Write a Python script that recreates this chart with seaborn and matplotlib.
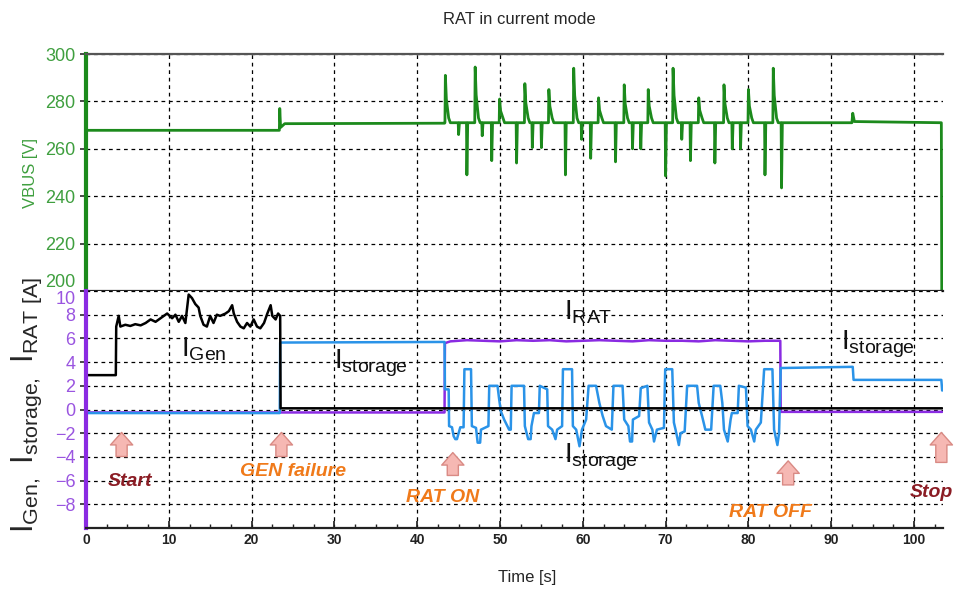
import matplotlib
matplotlib.use('Agg')  # no display in the sandbox
import matplotlib.pyplot as plt
from matplotlib.ticker import MultipleLocator
import pandas as pd
import seaborn as sns

# --- DATA ---
# bus voltage, piecewise levels
vbus_t = [0.0, 23.35, 23.4, 23.5, 24.0, 43.3, 84.3, 92.5, 92.6, 92.8, 103.3, 103.35]
vbus_v = [267.8, 267.8, 277.0, 269.0, 270.6, 270.8, 271.0, 271.0, 275.0, 271.5, 271.0, 200.0]
VBUS_BASE = 271.0
# spikes while the RAT is on
up_spike_t = [43.4, 47.0, 49.95, 53.0, 55.9, 58.9, 61.9, 65.0, 67.9, 70.9, 74.0, 77.05, 80.0, 83.0]
up_spike_v = [291, 294.5, 281, 287.5, 285, 294, 281.5, 287, 285, 294, 281.5, 287, 285, 294]
down_spike_t = [45.0, 46.0, 47.85, 49.0, 52.0, 53.9, 55.0, 57.9, 59.85, 60.95, 63.95,
                66.0, 67.0, 70.0, 71.95, 73.0, 75.95, 78.05, 79.05, 82.0, 84.0]
down_spike_v = [266, 249, 265.5, 255, 254, 260.5, 260.5, 249, 264, 256, 254.5,
                260, 260, 248.5, 264, 255, 254, 260, 260, 249, 243.5]

# generator current
igen_t = [0, 3.6, 3.65, 3.95, 4.15, 4.75, 5.35, 5.95, 6.6, 7.2, 7.8, 8.4, 9.0, 9.8, 10.4,
          10.8, 11.2, 11.6, 12.0, 12.4, 12.8, 13.2, 13.6, 13.8, 14.2, 14.6, 15.0, 15.4,
          15.8, 16.2, 16.85, 17.25, 17.65, 17.85, 18.25, 18.65, 19.05, 19.45, 19.85,
          20.25, 20.65, 21.05, 21.5, 21.9, 22.3, 22.5, 22.9, 23.2, 23.45, 23.5, 103.4]
igen_a = [2.9, 2.9, 7.0, 7.9, 7.0, 7.15, 7.05, 7.2, 7.1, 7.3, 7.6, 7.4, 7.7, 8.1, 7.7,
          8.0, 7.4, 7.9, 7.3, 9.7, 9.4, 8.9, 8.6, 7.9, 7.15, 7.0, 7.9, 7.3,
          8.0, 7.9, 8.1, 8.3, 8.8, 8.1, 7.4, 7.0, 6.85, 7.3, 7.0,
          7.6, 7.0, 6.85, 7.3, 8.1, 8.8, 7.9, 7.6, 8.1, 7.9, 0.1, 0.1]

# storage current
istor_t = [0, 23.4, 23.45, 43.3, 43.35, 43.8, 43.85, 44.2, 44.4, 44.6, 44.8, 45.0, 45.2,
           45.6, 45.7, 46.5, 46.6, 47.1, 47.3, 47.6, 47.7, 48.6, 48.7, 49.7, 49.9, 50.1,
           50.5, 51.1, 51.3, 51.4, 52.9, 53.0, 53.4, 53.7, 53.8, 54.1, 54.7, 54.8, 55.7,
           55.8, 56.3, 56.7, 56.9, 57.5, 57.6, 58.7, 58.8, 59.2, 59.6, 59.9, 60.4, 60.7,
           61.6, 62.0, 62.4, 62.8, 63.5, 63.7, 64.8, 65.0, 65.5, 65.7, 65.95, 66.05, 66.8,
           67.0, 67.8, 68.0, 68.4, 68.6, 68.95, 69.8, 69.95, 70.8, 71.0, 71.2, 71.6, 71.8,
           72.3, 72.6, 73.8, 74.0, 74.4, 74.8, 75.5, 75.8, 76.6, 76.85, 77.05, 77.5, 77.85,
           78.0, 78.7, 78.85, 79.7, 79.9, 80.3, 80.7, 80.9, 81.5, 81.9, 82.9, 83.1, 83.5,
           83.7, 83.9, 92.6, 92.7, 103.3, 103.4]
istor_a = [-0.3, -0.3, 5.65, 5.7, 1.7, 1.7, -1.4, -1.5, -2.25, -2.5, -2.5, -2.0, -1.5,
           -1.5, 3.4, 3.4, -1.4, -1.55, -2.8, -2.8, -1.7, -1.4, 2.0, 2.0, 0.85, -0.15,
           -0.85, -1.7, -1.7, 2.0, 2.0, -1.4, -2.5, -2.5, -1.4, -0.3, -0.3, 2.0, 1.7,
           -1.4, -1.7, -2.5, -1.7, -1.4, 3.4, 3.4, -1.4, -1.7, -3.1, -1.7, -0.85, 2.0,
           2.0, 0.55, -0.55, -1.4, -1.7, 2.0, 2.0, -0.85, -1.4, -2.7, -2.7, -0.85, -0.55,
           1.8, 2.0, -1.1, -1.7, -2.7, -1.7, -1.55, 3.4, 3.4, -1.1, -1.7, -3.0, -2.0,
           -1.85, 2.0, 2.0, 0.55, -0.55, -1.7, -1.7, 2.0, 2.0, 0.55, -1.7, -2.7, -0.85,
           -0.3, -0.3, 2.0, 1.85, -1.4, -1.7, -2.7, -1.7, -1.1, 3.4, 3.4, -1.7, -3.0,
           -2.0, 3.5, 3.6, 2.5, 2.5, 1.6]

# RAT current
irat_t = [0, 43.3, 43.35, 44, 46, 48, 50, 52, 54, 56, 58, 60, 62, 64, 66, 68, 70,
          72, 74, 76, 78, 80, 82, 83.85, 83.9, 103.4]
irat_a = [-0.25, -0.25, 5.6, 5.75, 5.85, 5.8, 5.75, 5.85, 5.8, 5.85, 5.75, 5.8,
          5.85, 5.8, 5.75, 5.85, 5.8, 5.8, 5.75, 5.85, 5.8, 5.75, 5.8, 5.8, -0.2, -0.2]

# event arrows: label, time, arrow tail, arrow head, text x, text y, colour
events = [
    ("Start", 4.3, -4.2, -1.7, 5.3, -6.1, "#8b1c24"),
    ("GEN failure", 23.6, -4.2, -1.7, 25.0, -5.2, "#f07a1a"),
    ("RAT ON", 44.3, -5.8, -3.4, 43.1, -7.4, "#f07a1a"),
    ("RAT OFF", 84.8, -6.6, -4.1, 82.6, -8.7, "#f07a1a"),
    ("Stop", 103.3, -4.7, -1.7, 102.1, -7.0, "#8b1c24"),
]
# curve names: text, time, current (baseline of the big I)
curve_labels = [
    (r"$\mathregular{I_{Gen}}$", 11.5, 4.5),
    (r"$\mathregular{I_{storage}}$", 29.9, 3.5),
    (r"$\mathregular{I_{RAT}}$", 57.7, 7.6),
    (r"$\mathregular{I_{storage}}$", 57.7, -4.5),
    (r"$\mathregular{I_{storage}}$", 91.2, 5.1),
]

GREEN = "#1c8a1c"
GREEN_TXT = "#3f9f3f"
PURPLE = "#8a2be2"
PURPLE_TXT = "#9a55e0"
BLUE = "#2a93e8"

# 1. Assemble the voltage trace from levels + spikes
pts = list(zip(vbus_t, vbus_v))
for t, v in zip(up_spike_t, up_spike_v):
    pts += [(t - 0.05, VBUS_BASE), (t, v), (t + 0.12, (v + VBUS_BASE) / 2),
            (t + 0.4, VBUS_BASE + 2), (t + 0.6, VBUS_BASE)]
for t, v in zip(down_spike_t, down_spike_v):
    pts += [(t - 0.05, VBUS_BASE), (t, v), (t + 0.1, VBUS_BASE)]
pts.sort()
df_v = pd.DataFrame(pts, columns=["t", "v"])

# 2. Style
sns.set_theme(style="white")
plt.rcParams["font.family"] = ["Liberation Sans", "DejaVu Sans"]
plt.rcParams["mathtext.fontset"] = "custom"
plt.rcParams["mathtext.rm"] = "Liberation Sans"

fig = plt.figure(figsize=(9.59, 5.95), dpi=100)
L, W = 86 / 959, (943 - 86) / 959
ax_v = fig.add_axes([L, 304 / 595, W, 237 / 595])
ax_i = fig.add_axes([L, 67 / 595, W, 237 / 595], sharex=ax_v)

# 3. Voltage panel
sns.lineplot(data=df_v, x="t", y="v", ax=ax_v, color=GREEN, lw=2.0,
             estimator=None, sort=False)
ax_v.set_ylim(200, 300)
ax_v.set_yticks(range(200, 301, 20))
ax_v.set_xlabel("")
ax_v.set_ylabel("")
ax_v.tick_params(axis="y", colors="#333333", labelcolor=GREEN_TXT, labelsize=13,
                 length=4, direction="out", left=True)
ax_v.tick_params(axis="x", labelbottom=False, bottom=False)

# 4. Current panel
sns.lineplot(x=irat_t, y=irat_a, ax=ax_i, color=PURPLE, lw=1.8, estimator=None, sort=False)
sns.lineplot(x=istor_t, y=istor_a, ax=ax_i, color=BLUE, lw=1.8, estimator=None, sort=False)
sns.lineplot(x=igen_t, y=igen_a, ax=ax_i, color="black", lw=1.8, estimator=None, sort=False)
ax_i.set_ylim(-10, 10)
ax_i.set_yticks(range(-8, 11, 2))
ax_i.set_xlim(0, 103.5)
ax_i.xaxis.set_major_locator(MultipleLocator(10))
ax_i.xaxis.set_minor_locator(MultipleLocator(2.5))
ax_i.set_xlabel("")
ax_i.set_ylabel("")
ax_i.tick_params(axis="y", colors="#333333", labelcolor=PURPLE_TXT, labelsize=13,
                 length=4, direction="out", left=True)
ax_i.tick_params(axis="x", which="major", direction="in", length=5, labelsize=10,
                 bottom=True, colors="#222222")
ax_i.tick_params(axis="x", which="minor", direction="in", length=3, bottom=True,
                 colors="#222222")
for lab in ax_i.get_xticklabels():
    lab.set_fontweight("bold")

# the 200 V and 10 A labels share the panel seam: nudge them apart
ax_v.yaxis.get_major_ticks()[0].label1.set_va("bottom")
ax_i.yaxis.get_major_ticks()[-1].label1.set_va("top")

for ax, col in [(ax_v, GREEN), (ax_i, PURPLE)]:
    ax.grid(True, which="major", color="black", ls=(0, (3, 3)), lw=0.9)
    ax.spines["right"].set_visible(False)
    ax.spines["left"].set_color(col)
    ax.spines["left"].set_linewidth(3)
    ax.spines["bottom"].set_color("#222222")
    ax.spines["bottom"].set_linewidth(1.6)
ax_v.spines["top"].set_color("#555555")
ax_v.spines["top"].set_linewidth(1.6)
ax_i.spines["top"].set_visible(False)

# 5. Annotations
for name, t, y0, y1, tx, ty, col in events:
    ax_i.annotate("", xy=(t, y1), xytext=(t, y0), annotation_clip=False,
                  arrowprops=dict(arrowstyle="simple,head_length=0.9,head_width=1.6,tail_width=0.8",
                                  mutation_scale=10, fc="#f6b8b3", ec="#d98a84", lw=1))
    ax_i.text(tx, ty, name, color=col, fontsize=14, fontweight="bold", fontstyle="italic",
              ha="center", va="center")
for txt, t, a in curve_labels:
    ax_i.text(t, a, txt, fontsize=20, color="#111111", ha="left", va="baseline")

fig.text(0.542, 0.968, "RAT in current mode", fontsize=12, ha="center", va="center")
fig.text(0.55, 0.03, "Time [s]", fontsize=12, ha="center", va="center")
fig.text(30 / 959, 1 - 173 / 595, "VBUS [V]", fontsize=12, color=GREEN_TXT,
         rotation=90, ha="center", va="center")
fig.text(27 / 959, 1 - 405 / 595,
         r"$\mathregular{I_{Gen,}\ I_{storage,}\ I_{RAT\ [A]}}$",
         fontsize=22, rotation=90, ha="center", va="center")

fig.savefig("out.png", dpi=100)
